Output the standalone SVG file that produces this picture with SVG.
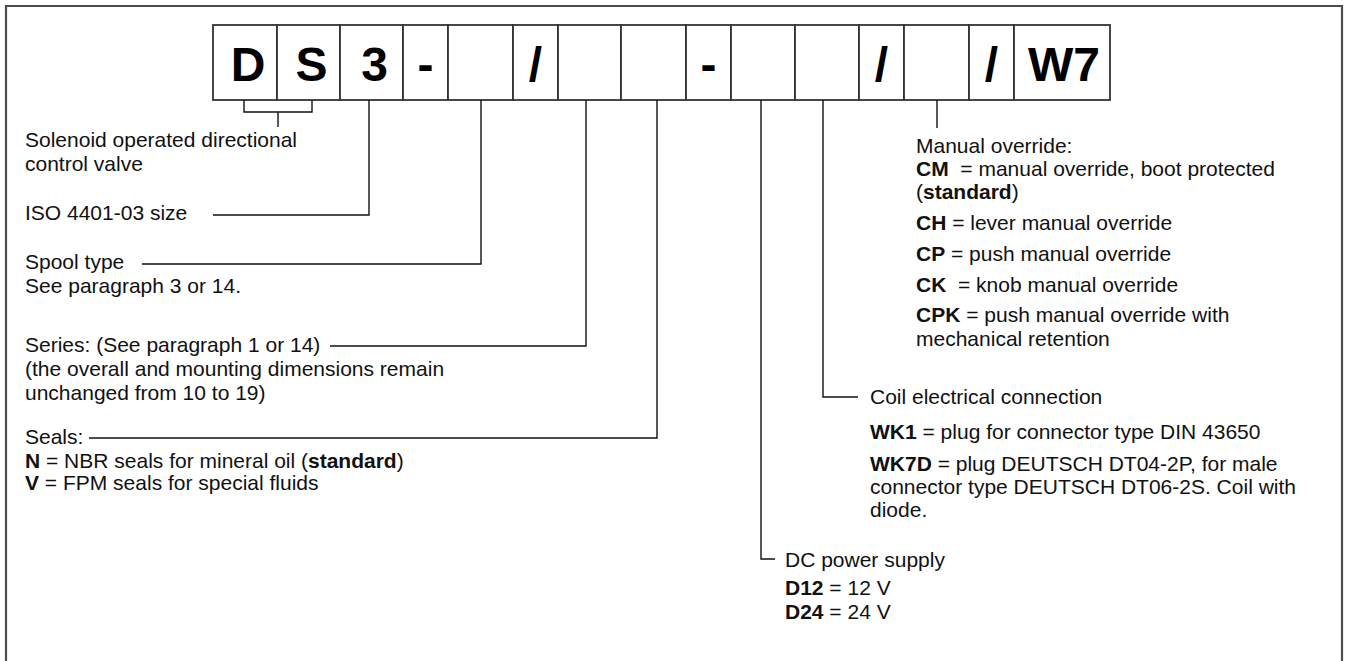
<svg xmlns="http://www.w3.org/2000/svg" width="1346" height="661" viewBox="0 0 1346 661">
<style>
.t{font-family:"Liberation Sans",Arial,Helvetica,sans-serif;font-size:21px;fill:#111;white-space:pre}
.b{font-weight:bold}
.big{font-family:"Liberation Sans",Arial,Helvetica,sans-serif;font-size:48px;font-weight:bold;fill:#000;text-anchor:middle}
.box{fill:#fff;stroke:#333;stroke-width:1.8}
.ln{fill:none;stroke:#111;stroke-width:1.4}
.frame{fill:none;stroke:#4d4d4d;stroke-width:2.2}
</style>
<path class="frame" d="M6,662 V6 H1342 V662"/>
<g id="code">
<g id="box-D"><rect class="box" x="213" y="25" width="64" height="75"/><text class="big" x="248" y="81">D</text></g>
<g id="box-S"><rect class="box" x="277" y="25" width="63" height="75"/><text class="big" x="311.5" y="81">S</text></g>
<g id="box-3"><rect class="box" x="340" y="25" width="63" height="75"/><text class="big" x="374.5" y="81">3</text></g>
<g id="box-dash1"><rect class="box" x="403" y="25" width="45" height="75"/><text class="big" x="425.5" y="81">-</text></g>
<g id="box-spool"><rect class="box" x="448" y="25" width="65" height="75"/></g>
<g id="box-slash1"><rect class="box" x="513" y="25" width="45" height="75"/><text class="big" x="535.5" y="81">/</text></g>
<g id="box-series"><rect class="box" x="558" y="25" width="63" height="75"/></g>
<g id="box-seals"><rect class="box" x="621" y="25" width="65" height="75"/></g>
<g id="box-dash2"><rect class="box" x="686" y="25" width="45" height="75"/><text class="big" x="708.5" y="81">-</text></g>
<g id="box-dc"><rect class="box" x="731" y="25" width="64" height="75"/></g>
<g id="box-coil"><rect class="box" x="795" y="25" width="64" height="75"/></g>
<g id="box-slash2"><rect class="box" x="859" y="25" width="45" height="75"/><text class="big" x="881.5" y="81">/</text></g>
<g id="box-manual"><rect class="box" x="904" y="25" width="65" height="75"/></g>
<g id="box-slash3"><rect class="box" x="969" y="25" width="45" height="75"/><text class="big" x="991.5" y="81">/</text></g>
<g id="box-W7"><rect class="box" x="1014" y="25" width="96" height="75"/><text class="big" x="1064" y="81">W7</text></g>
</g>
<g id="connectors">
<path class="ln" d="M244,100 V112 H312 V100 M278,112 V127"/>
<path class="ln" d="M369,100 V215 H213"/>
<path class="ln" d="M481,100 V264 H142"/>
<path class="ln" d="M586,100 V346 H330"/>
<path class="ln" d="M657,100 V438 H89"/>
<path class="ln" d="M761,100 V559 H775"/>
<path class="ln" d="M823,100 V397 H858"/>
<path class="ln" d="M937,100 V128"/>
</g>
<g id="lbl-solenoid"><text class="t" x="25" y="147">Solenoid operated directional</text><text class="t" x="25" y="171">control valve</text></g>
<g id="lbl-size"><text class="t" x="25" y="220">ISO 4401-03 size</text></g>
<g id="lbl-spool"><text class="t" x="25" y="269">Spool type</text><text class="t" x="25" y="293">See paragraph 3 or 14.</text></g>
<g id="lbl-series"><text class="t" x="25" y="352">Series: (See paragraph 1 or 14)</text><text class="t" x="25" y="376">(the overall and mounting dimensions remain</text><text class="t" x="25" y="400">unchanged from 10 to 19)</text></g>
<g id="lbl-seals"><text class="t" x="25" y="444">Seals:</text><text class="t" x="25" y="468"><tspan class="b">N</tspan> = NBR seals for mineral oil (<tspan class="b">standard</tspan>)</text><text class="t" x="25" y="490"><tspan class="b">V</tspan> = FPM seals for special fluids</text></g>
<g id="lbl-manual">
<text class="t" x="916" y="153">Manual override:</text>
<text class="t" x="916" y="176"><tspan class="b">CM</tspan>  = manual override, boot protected</text>
<text class="t" x="916" y="199">(<tspan class="b">standard</tspan>)</text>
<text class="t" x="916" y="230"><tspan class="b">CH</tspan> = lever manual override</text>
<text class="t" x="916" y="261"><tspan class="b">CP</tspan> = push manual override</text>
<text class="t" x="916" y="292"><tspan class="b">CK</tspan>  = knob manual override</text>
<text class="t" x="916" y="322"><tspan class="b">CPK</tspan> = push manual override with</text>
<text class="t" x="916" y="346">mechanical retention</text>
</g>
<g id="lbl-coil">
<text class="t" x="870" y="404">Coil electrical connection</text>
<text class="t" x="870" y="439"><tspan class="b">WK1</tspan> = plug for connector type DIN 43650</text>
<text class="t" x="870" y="471"><tspan class="b">WK7D</tspan> = plug DEUTSCH DT04-2P, for male</text>
<text class="t" x="870" y="494">connector type DEUTSCH DT06-2S. Coil with</text>
<text class="t" x="870" y="517">diode.</text>
</g>
<g id="lbl-dc">
<text class="t" x="785" y="567">DC power supply</text>
<text class="t" x="785" y="595"><tspan class="b">D12</tspan> = 12 V</text>
<text class="t" x="785" y="619"><tspan class="b">D24</tspan> = 24 V</text>
</g>
</svg>
